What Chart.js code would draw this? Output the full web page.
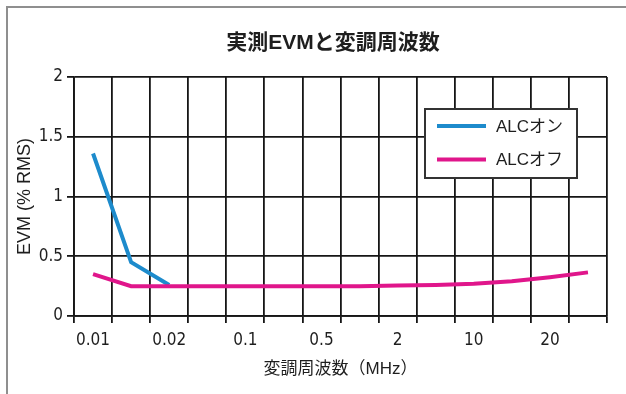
<!DOCTYPE html>
<html lang="ja">
<head>
<meta charset="utf-8">
<title>実測EVMと変調周波数</title>
<script src="https://cdn.jsdelivr.net/npm/chart.js@4/dist/chart.umd.min.js"></script>
<style>
  html, body { margin: 0; padding: 0; background: #fff; overflow: hidden; }
  #wrap { position: relative; width: 626px; height: 394px; }
  #frame { position: absolute; left: 6px; top: 6px; width: 700px; height: 500px;
           border: 2px solid #8f8f8f; box-sizing: border-box; }
  canvas { position: absolute; left: 0; top: 0; }
</style>
</head>
<body>
<div id="wrap">
  <div id="frame"></div>
  <canvas id="c" width="626" height="394"></canvas>
</div>
<script>
// Modulation frequency bins (MHz); only every other bin carries a label
const freqLabels = ['0.01', '', '0.02', '', '0.1', '', '0.5', '', '2', '', '10', '', '20', ''];

// Measured EVM (% RMS)
const evmAlcOn  = [1.36, 0.45, 0.26, null, null, null, null, null, null, null, null, null, null, null];
const evmAlcOff = [0.35, 0.25, 0.25, 0.25, 0.25, 0.25, 0.25, 0.25, 0.255, 0.26, 0.27, 0.29, 0.325, 0.365];

const yTicks = [0, 0.5, 1, 1.5, 2];

const chartTitle = '実測EVMと変調周波数';
const xTitle = '変調周波数（MHz）';
const yTitle = 'EVM (% RMS)';
const seriesNames = ['ALCオン', 'ALCオフ'];

const BLUE = '#1d8bcc';
const PINK = '#e0168b';
const GRID = '#161616';
const TEXT = '#1e1e1e';
const SANS = "'Liberation Sans', 'Noto Sans CJK JP', sans-serif";
const NARROW = "'Liberation Sans Narrow', 'DejaVu Sans Condensed', 'Liberation Sans', sans-serif";

// Title drawn centred above the plot
const titlePlugin = {
  id: 'plotTitle',
  afterDraw(chart) {
    const ctx = chart.ctx;
    ctx.save();
    ctx.font = "bold 21px 'Liberation Sans', 'Noto Sans CJK JP', sans-serif";
    ctx.fillStyle = TEXT;
    ctx.textAlign = 'center';
    ctx.textBaseline = 'middle';
    ctx.fillText(chartTitle, 333, 43);
    ctx.restore();
  }
};

// Boxed legend inside the upper right of the plot
const boxLegend = {
  id: 'boxLegend',
  afterDatasetsDraw(chart) {
    const ctx = chart.ctx;
    const a = chart.chartArea;
    const x0 = a.right - 182, y0 = a.top + 32, w = 152, h = 69;
    ctx.save();
    ctx.fillStyle = '#ffffff';
    ctx.fillRect(x0, y0, w, h);
    ctx.lineWidth = 2;
    ctx.strokeStyle = '#333333';
    ctx.strokeRect(x0, y0, w, h);
    const items = [chart.data.datasets.find(d => d.label === seriesNames[0]),
                   chart.data.datasets.find(d => d.label === seriesNames[1])];
    items.forEach((ds, i) => {
      const y = y0 + 17 + i * 33.5;
      ctx.strokeStyle = ds.borderColor;
      ctx.lineWidth = 4;
      ctx.beginPath();
      ctx.moveTo(x0 + 12, y);
      ctx.lineTo(x0 + 61, y);
      ctx.stroke();
      ctx.fillStyle = TEXT;
      ctx.font = '17px ' + SANS;
      ctx.textAlign = 'left';
      ctx.textBaseline = 'middle';
      ctx.fillText(ds.label, x0 + 71, y + 1);
    });
    ctx.restore();
  }
};

new Chart(document.getElementById('c'), {
  type: 'line',
  data: {
    labels: freqLabels,
    datasets: [
      { label: seriesNames[1], data: evmAlcOff, borderColor: PINK, backgroundColor: PINK,
        borderWidth: 4, pointRadius: 0, tension: 0, order: 0 },
      { label: seriesNames[0], data: evmAlcOn, borderColor: BLUE, backgroundColor: BLUE,
        borderWidth: 4, pointRadius: 0, tension: 0, order: 1, spanGaps: false }
    ]
  },
  options: {
    responsive: false,
    animation: false,
    devicePixelRatio: 1,
    layout: { padding: { left: 0, right: 19, top: 77, bottom: 0 } },
    plugins: {
      legend: { display: false },
      title: { display: false },
      tooltip: { enabled: false }
    },
    scales: {
      x: {
        type: 'category',
        offset: true,
        grid: { offset: true, color: GRID, lineWidth: 1.8, tickLength: 7, tickColor: GRID, tickWidth: 1.8 },
        border: { color: GRID, width: 1.8 },
        ticks: { autoSkip: false, maxRotation: 0, color: TEXT, padding: 7,
                 font: { family: NARROW, size: 17 } },
        title: { display: true, text: xTitle, color: TEXT, padding: { top: 0, bottom: 14 },
                 font: { family: SANS, size: 17 } },
        afterFit(scale) { scale.height = 78; }
      },
      y: {
        min: 0, max: 2,
        afterBuildTicks(scale) { scale.ticks = yTicks.map(v => ({ value: v })); },
        grid: { color: GRID, lineWidth: 1.8, tickLength: 7, tickColor: GRID, tickWidth: 1.8 },
        border: { color: GRID, width: 1.8 },
        ticks: { color: TEXT, padding: 4, font: { family: NARROW, size: 17 },
                 callback: v => String(v) },
        title: { display: true, text: yTitle, color: TEXT, padding: { top: 14, bottom: 0 },
                 font: { family: SANS, size: 18 } },
        afterFit(scale) { scale.width = 74; }
      }
    }
  },
  plugins: [titlePlugin, boxLegend]
});
</script>
</body>
</html>
